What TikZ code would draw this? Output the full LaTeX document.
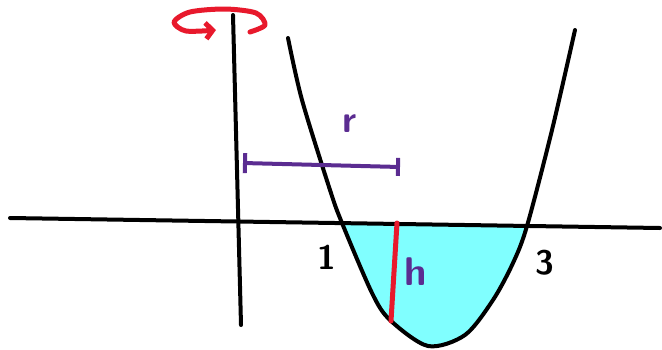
\documentclass[tikz,border=0pt]{standalone}
\usetikzlibrary{arrows.meta}
\definecolor{spin}{HTML}{E8192C}
\definecolor{rpurple}{HTML}{5B2C91}
\definecolor{shell}{HTML}{80FFFF}
\tikzset{ink/.style={line width=4pt,line cap=round,line join=round},mark label/.style={font=\sffamily\bfseries\fontsize{34}{34}\selectfont,inner sep=0pt}}
\begin{document}
\begin{tikzpicture}[x=1pt,y=-1pt]
\useasboundingbox (0,0) rectangle (662,349);
\coordinate (axistop) at (233,15);\coordinate (axisbot) at (241,325);
\coordinate (xleft) at (10,218);\coordinate (xright) at (660,228);
\coordinate (htop) at (397,223);\coordinate (hbot) at (391,321);
\coordinate (rleft) at (243,163);\coordinate (rright) at (400,167);
% shaded region under the axis
\begin{scope}\clip (xleft) -- (xright) -- (662,349) -- (0,349) -- cycle;
\fill[shell] plot[smooth] coordinates {(288,38) (302,100) (330,190) (342,223) (372,293) (390,320) (428,346) (465,335) (493,300) (513,263) (527,226) (552,130) (575,30)} -- cycle;\end{scope}
\draw[ink] (axistop) -- (axisbot);
\draw[ink] (xleft) -- (xright);
\draw[ink] plot[smooth] coordinates {(288,38) (302,100) (330,190) (342,223) (372,293) (390,320) (428,346) (465,335) (493,300) (513,263) (527,226) (552,130) (575,30)};
\draw[ink,spin,line width=5pt] (htop) -- (hbot);
\draw[ink,rpurple,{Bar[width=20pt]}-{Bar[width=18pt]}] (rleft) -- (rright);
\draw[ink,spin,line width=5pt,-{Straight Barb[length=7pt,width=16pt]}] plot[smooth] coordinates {(250,32) (265,25) (256,13) (225,9) (190,12) (174,22) (186,31) (216,30)};
\node[mark label,rpurple,font=\sffamily\bfseries\fontsize{38}{38}\selectfont] (rlabel) at (350,124) {r};
\node[mark label] (one) at (327,257) {1};
\node[mark label] (three) at (545,263) {3};
\node[mark label,rpurple,font=\sffamily\bfseries\fontsize{40}{40}\selectfont] (hlabel) at (416,272) {h};
\end{tikzpicture}
\end{document}
